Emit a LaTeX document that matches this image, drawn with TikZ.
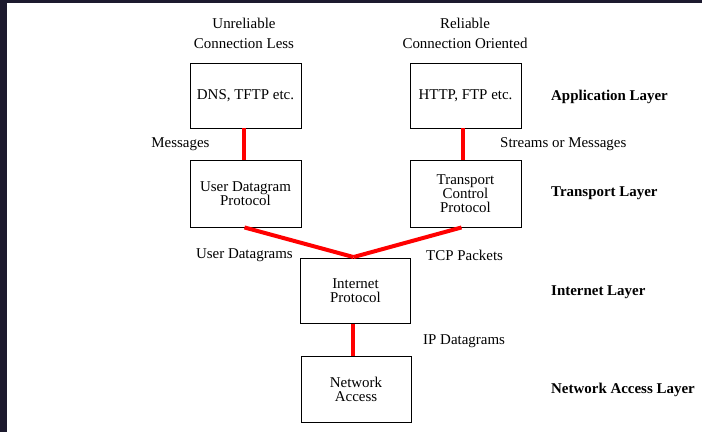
\documentclass[tikz,border=0pt]{standalone}
\usepackage{fontspec}
\setmainfont{Liberation Serif}
\begin{document}
\begin{tikzpicture}[x=1bp,y=-1bp,
  layerbox/.style={draw=black,line width=0.9bp,inner sep=0pt,align=center,
    font=\fontsize{15}{14}\selectfont},
  link/.style={draw=red,line width=4bp},
  lbl/.style={inner sep=0pt,font=\fontsize{15}{18}\selectfont},
  toplbl/.style={inner sep=0pt,align=center,font=\fontsize{15}{20}\selectfont},
  layername/.style={inner sep=0pt,anchor=west,font=\fontsize{15}{18}\selectfont\bfseries}]
% page and dark frame
\useasboundingbox (0,0) rectangle (702,432);
\fill[white] (0,0) rectangle (702,432);
\definecolor{frame}{RGB}{28,26,46}
\fill[frame] (0,0) rectangle (702,3);
\fill[frame] (0,0) rectangle (7,432);

% protocol boxes
\node[layerbox,minimum width=111bp,minimum height=65bp] (dns) at (245.5,95.5) {DNS, TFTP etc.};
\node[layerbox,minimum width=111bp,minimum height=65bp] (http) at (465.5,95.5) {HTTP, FTP etc.};
\node[layerbox,minimum width=111bp,minimum height=67bp] (udp) at (245.5,193.5) {User Datagram\\Protocol};
\node[layerbox,minimum width=111bp,minimum height=67bp] (tcp) at (465.5,193.5) {Transport\\Control\\Protocol};
\node[layerbox,minimum width=110bp,minimum height=65bp] (ip) at (355.5,291) {Internet\\Protocol};
\node[layerbox,minimum width=110bp,minimum height=66bp] (na) at (356,389) {Network\\Access};

% red connectors
\coordinate (join) at ([xshift=-2bp,yshift=1bp]ip.north);
\draw[link] ([xshift=-1.5bp]dns.south) -- ([xshift=-1.5bp]udp.north);
\draw[link] ([xshift=-2.5bp]http.south) -- ([xshift=-2.5bp]tcp.north);
\draw[link] ([xshift=-1bp]udp.south) -- (join);
\draw[link] ([xshift=-4bp]tcp.south) -- (join);
\draw[link] ([xshift=-2.5bp]ip.south) -- ([xshift=-3bp]na.north);

% headings above the boxes
\node[toplbl] (unrel) at (244,33) {Unreliable\\Connection Less};
\node[toplbl] (rel) at (465,33) {Reliable\\Connection Oriented};

% connector labels
\node[lbl] (msg) at (180.5,144) {Messages};
\node[lbl,anchor=west] (streams) at (500,144) {Streams or Messages};
\node[lbl,anchor=east] (udg) at (293,255) {User Datagrams};
\node[lbl,anchor=west] (tcpp) at (426,255) {TCP Packets};
\node[lbl,anchor=west] (ipd) at (423,341) {IP Datagrams};

% layer names
\node[layername] (app) at (551,97) {Application Layer};
\node[layername] (trans) at (551,193) {Transport Layer};
\node[layername] (inet) at (551,292) {Internet Layer};
\node[layername] (nacc) at (551,390) {Network Access Layer};
\end{tikzpicture}
\end{document}
